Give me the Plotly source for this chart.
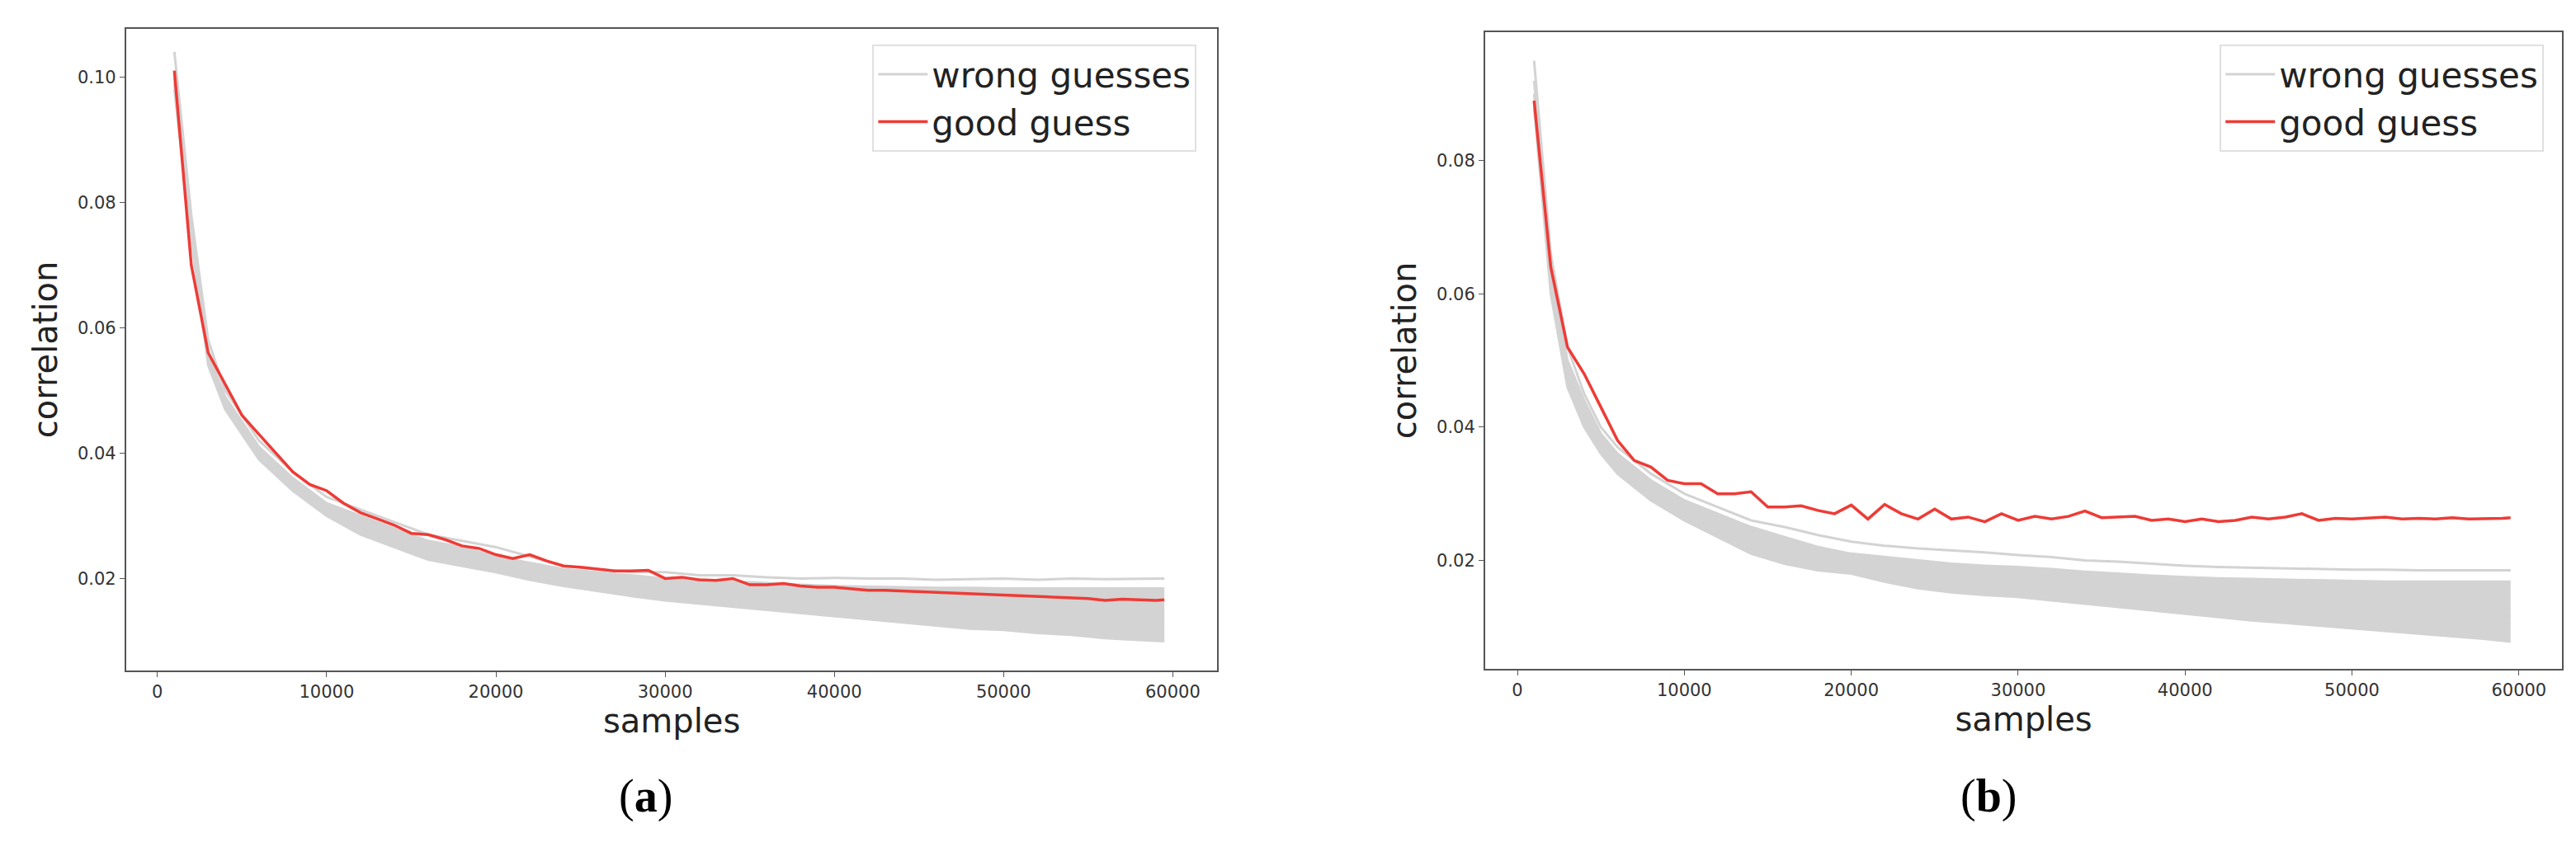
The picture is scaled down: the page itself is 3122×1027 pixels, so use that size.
import plotly.graph_objects as go

xg = [1000,2000,3000,4000,5000,6000,8000,10000,12000,14000,16000,18000,20000,22000,24000,26000,28000,30000,32000,34000,36000,38000,40000,42000,44000,46000,48000,50000,52000,54000,56000,58000,59500]
x_ticks = [0,10000,20000,30000,40000,50000,60000]
x_ticklabels = ["0","10000","20000","30000","40000","50000","60000"]

# panel (a) wrong guesses
a_top   = [0.104,0.078,0.058,0.050,0.046,0.042,0.037,0.033,0.031,0.029,0.027,0.026,0.025,0.0235,0.022,0.0215,0.021,0.021,0.0205,0.0205,0.0202,0.0200,0.0201,0.0200,0.0200,0.0198,0.0199,0.0200,0.0198,0.0200,0.0199,0.0200,0.0200]
a_upper = [0.100,0.076,0.056,0.049,0.045,0.041,0.036,0.032,0.030,0.028,0.026,0.025,0.0235,0.0225,0.0215,0.021,0.0205,0.0200,0.0198,0.0195,0.0193,0.0190,0.0188,0.0187,0.0186,0.0185,0.0185,0.0184,0.0184,0.0184,0.0184,0.0184,0.0184]
a_mid   = [0.099,0.075,0.055,0.048,0.044,0.040,0.035,0.031,0.028,0.026,0.0245,0.0235,0.022,0.021,0.020,0.0193,0.0186,0.018,0.0175,0.0171,0.0167,0.0163,0.0160,0.0157,0.0154,0.0152,0.0150,0.0148,0.0146,0.0144,0.0142,0.0141,0.0140]
a_lower = [0.098,0.074,0.054,0.047,0.043,0.039,0.034,0.030,0.027,0.025,0.023,0.022,0.021,0.0198,0.0188,0.018,0.0172,0.0165,0.016,0.0155,0.015,0.0145,0.014,0.0135,0.013,0.0125,0.012,0.0118,0.0113,0.011,0.0105,0.0102,0.0100]

# panel (b) wrong guesses
b_top   = [0.095,0.066,0.052,0.045,0.040,0.037,0.033,0.030,0.028,0.026,0.025,0.0238,0.0228,0.0222,0.0218,0.0215,0.0212,0.0208,0.0205,0.020,0.0198,0.0195,0.0192,0.0190,0.0189,0.0188,0.0187,0.0186,0.0186,0.0185,0.0185,0.0185,0.0185]
b_upper = [0.092,0.064,0.050,0.044,0.039,0.036,0.032,0.029,0.027,0.025,0.0235,0.022,0.021,0.0205,0.020,0.0195,0.0192,0.0190,0.0187,0.0183,0.0180,0.0177,0.0175,0.0173,0.0172,0.0171,0.0170,0.0169,0.0168,0.0168,0.0168,0.0168,0.0168]
b_mid   = [0.090,0.062,0.048,0.041,0.037,0.034,0.030,0.027,0.0245,0.023,0.021,0.020,0.019,0.018,0.0172,0.0165,0.016,0.0155,0.015,0.0146,0.0142,0.0139,0.0136,0.0133,0.0130,0.0128,0.0126,0.0124,0.0122,0.0120,0.0118,0.0117,0.0116]
b_lower = [0.088,0.060,0.046,0.040,0.036,0.033,0.029,0.026,0.0235,0.021,0.0195,0.0185,0.018,0.0168,0.0158,0.0152,0.0148,0.0145,0.014,0.0135,0.0130,0.0125,0.0120,0.0115,0.0110,0.0106,0.0102,0.0098,0.0094,0.0090,0.0086,0.0082,0.0078]

# good guesses
xr = list(range(1000, 60000, 1000)) + [59500]
a_red = [0.101,0.070,0.056,0.051,0.046,0.043,0.040,0.037,0.035,0.034,0.032,0.0305,0.0295,0.0285,0.0272,0.0270,0.0262,0.0252,0.0248,0.0238,0.0232,0.0238,0.0228,0.0220,0.0218,0.0215,0.0212,0.0212,0.0213,0.0200,0.0202,0.0198,0.0197,0.0200,0.0190,0.0190,0.0192,0.0188,0.0186,0.0186,0.0184,0.0181,0.0181,0.0180,0.0179,0.0178,0.0176,0.0176,0.0175,0.0173,0.0172,0.0171,0.0170,0.0169,0.0168,0.0165,0.0167,0.0166,0.0165,0.0166]
b_red = [0.089,0.064,0.052,0.048,0.043,0.038,0.035,0.034,0.032,0.0315,0.0315,0.030,0.030,0.0303,0.028,0.028,0.0282,0.0275,0.0270,0.0283,0.0262,0.0284,0.0270,0.0262,0.0277,0.0262,0.0265,0.0258,0.0270,0.0260,0.0266,0.0262,0.0266,0.0274,0.0264,0.0265,0.0266,0.0260,0.0262,0.0258,0.0262,0.0258,0.0260,0.0265,0.0262,0.0265,0.0270,0.0260,0.0263,0.0262,0.0264,0.0265,0.0262,0.0263,0.0262,0.0264,0.0262,0.0262,0.0263,0.0264]

GRAY = "#d3d3d3"
RED = "#ee3b36"
fig = go.Figure()

def panel(xa, ya, leg, top, upper, mid, lower, red):
    fig.add_trace(go.Scatter(x=xg, y=top, mode="lines", line=dict(color=GRAY, width=3),
                             name="wrong guesses", legend=leg, xaxis=xa, yaxis=ya))
    fig.add_trace(go.Scatter(x=xg, y=lower, mode="lines", line=dict(color=GRAY, width=3),
                             xaxis=xa, yaxis=ya, showlegend=False, hoverinfo="skip"))
    fig.add_trace(go.Scatter(x=xg, y=upper, mode="lines", line=dict(color=GRAY, width=3),
                             fill="tonexty", fillcolor=GRAY,
                             xaxis=xa, yaxis=ya, showlegend=False))
    fig.add_trace(go.Scatter(x=xg, y=mid, mode="lines", line=dict(color=GRAY, width=3),
                             xaxis=xa, yaxis=ya, showlegend=False))
    fig.add_trace(go.Scatter(x=xr, y=red, mode="lines", line=dict(color=RED, width=3.5),
                             name="good guess", legend=leg, xaxis=xa, yaxis=ya))

panel("x", "y", "legend", a_top, a_upper, a_mid, a_lower, a_red)
panel("x2", "y2", "legend2", b_top, b_upper, b_mid, b_lower, b_red)

ax = dict(showgrid=False, zeroline=False, showline=True, linecolor="#555", linewidth=2, mirror=True,
          ticks="outside", ticklen=6, tickcolor="#555", tickfont=dict(size=21, color="#333", family="DejaVu Sans"))
tick_x = dict(tickvals=x_ticks, ticktext=x_ticklabels)
ttl = dict(font=dict(size=40, color="#222", family="DejaVu Sans"))
legstyle = dict(font=dict(size=42, color="#222", family="DejaVu Sans"), bgcolor="white",
                bordercolor="#e0e0e0", borderwidth=2, xanchor="right", yanchor="top", itemwidth=60,
                traceorder="normal")

fig.update_layout(
    width=3122, height=1027, margin=dict(l=0, r=0, t=0, b=0),
    paper_bgcolor="white", plot_bgcolor="white",
    xaxis=dict(ax, **tick_x, domain=[0.0464, 0.470], range=[-1850, 62630], anchor="y",
               title=dict(text="samples", standoff=10, **ttl)),
    yaxis=dict(ax, domain=[0.216, 0.974], range=[0.0053, 0.1077], anchor="x",
               tickvals=[0.02,0.04,0.06,0.08,0.10], ticktext=["0.02","0.04","0.06","0.08","0.10"],
               title=dict(text="correlation", standoff=12, **ttl)),
    xaxis2=dict(ax, **tick_x, domain=[0.574, 0.992], range=[-1928, 62580], anchor="y2",
                title=dict(text="samples", standoff=10, **ttl)),
    yaxis2=dict(ax, domain=[0.218, 0.970], range=[0.0037, 0.0993], anchor="x2",
                tickvals=[0.02,0.04,0.06,0.08], ticktext=["0.02","0.04","0.06","0.08"],
                title=dict(text="correlation", standoff=12, **ttl)),
    legend=dict(legstyle, x=0.462, y=0.955),
    legend2=dict(legstyle, x=0.985, y=0.955),
    annotations=[
        dict(text="(<b>a</b>)", x=0.237, y=0.035, xref="paper", yref="paper", showarrow=False,
             font=dict(size=56, family="Liberation Serif", color="black")),
        dict(text="(<b>b</b>)", x=0.781, y=0.035, xref="paper", yref="paper", showarrow=False,
             font=dict(size=56, family="Liberation Serif", color="black")),
    ],
)
fig.write_html("out.html")
